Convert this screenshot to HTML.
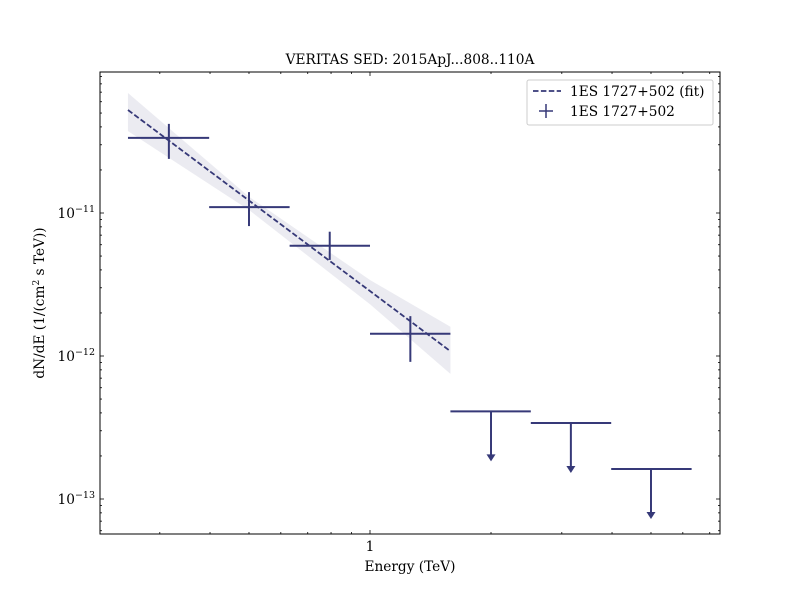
<!DOCTYPE html>
<html><head><meta charset="utf-8"><style>body{margin:0;background:#fff}svg text{font-family:"DejaVu Serif","Liberation Serif",serif;fill:#000}</style></head>
<body>
<svg id="chart" width="800" height="600" xmlns="http://www.w3.org/2000/svg">
<rect width="800" height="600" fill="#fff"/>
<g id="plot"></g>
<rect x="100" y="72" width="620" height="462" fill="none" stroke="#000" stroke-width="1"/>
<text x="410" y="64" font-size="13.7" text-anchor="middle">VERITAS SED: 2015ApJ...808..110A</text>
<text x="410" y="571" font-size="13.7" text-anchor="middle">Energy (TeV)</text>
<text transform="translate(44,303) rotate(-90)" font-size="13.7" text-anchor="middle">dN/dE (1/(cm<tspan font-size="9" dy="-5">2</tspan><tspan dy="5"> s TeV))</tspan></text>
<g>
<rect x="527" y="80" width="186" height="45" fill="#fff" stroke="#ccc" rx="2"/>
<line x1="533" y1="91" x2="561" y2="91" stroke="#363978" stroke-width="1.8" stroke-dasharray="5.5,2.4"/>
<text x="570" y="96" font-size="13.7">1ES 1727+502 (fit)</text>
<line x1="539" y1="111" x2="553" y2="111" stroke="#363978" stroke-width="1.5"/>
<line x1="546" y1="104" x2="546" y2="118" stroke="#363978" stroke-width="1.5"/>
<text x="570" y="116" font-size="13.7">1ES 1727+502</text>
</g>
</svg>
<script>
const binLo=[0.25,0.398,0.631,1.0];
const binHi=[0.398,0.631,1.0,1.585];
const energies=[0.316,0.5,0.794,1.26];
const flux=[3.35e-11,1.1e-11,5.9e-12,1.43e-12];
const fluxHi=[4.2e-11,1.4e-11,7.4e-12,1.9e-12];
const fluxLo=[2.39e-11,0.81e-11,4.7e-12,0.91e-12];
const ulLo=[1.585,2.512,3.981];
const ulHi=[2.512,3.981,6.31];
const ulE=[2.0,3.16,5.0];
const ulFlux=[4.1e-13,3.4e-13,1.62e-13];
const fitE=[0.25,1.585];
const fitF=[5.25e-11,1.08e-12];
const bandE=[0.25,0.5,1.0,1.585];
const bandHi=[6.9e-11,1.3e-11,3.4e-12,1.6e-12];
const bandLo=[3.74e-11,1.05e-11,2.3e-12,0.75e-12];
const xTicks=[1];
const yTicks=[-13,-12,-11];
const NS='http://www.w3.org/2000/svg';
const X=e=>370+402*Math.log10(e);
const Y=f=>213-143*(Math.log10(f)+11);
const g=document.getElementById('plot');
const svg=document.getElementById('chart');
function mk(tag,attrs,parent){const el=document.createElementNS(NS,tag);for(const k in attrs)el.setAttribute(k,attrs[k]);(parent||g).appendChild(el);return el;}
const C='#363978';
let pts=bandE.map((e,i)=>X(e)+','+Y(bandHi[i]));
pts=pts.concat(bandE.map((e,i)=>X(e)+','+Y(bandLo[i])).reverse());
let band=mk('polygon',{points:pts.join(' '),fill:C,'fill-opacity':0.1});


let fl=mk('line',{x1:X(fitE[0]),y1:Y(fitF[0]),x2:X(fitE[1]),y2:Y(fitF[1]),stroke:C,'stroke-width':1.8,'stroke-dasharray':'5.5,2.4'});


for(let i=0;i<flux.length;i++){
 const pg=mk('g',{});
 
 
 mk('line',{x1:X(binLo[i]),x2:X(binHi[i]),y1:Y(flux[i]),y2:Y(flux[i]),stroke:C,'stroke-width':2},pg);
 mk('line',{x1:X(energies[i]),x2:X(energies[i]),y1:Y(fluxHi[i]),y2:Y(fluxLo[i]),stroke:C,'stroke-width':2},pg);
}
for(let i=0;i<ulFlux.length;i++){
 const ug=mk('g',{});
 
 
 const y=Y(ulFlux[i]),x=X(ulE[i]);
 mk('line',{x1:X(ulLo[i]),x2:X(ulHi[i]),y1:y,y2:y,stroke:C,'stroke-width':2},ug);
 mk('line',{x1:x,x2:x,y1:y,y2:y+44,stroke:C,'stroke-width':2},ug);
 mk('polygon',{points:`${x-4.5},${y+43} ${x+4.5},${y+43} ${x},${y+50}`,fill:C},ug);
}
const tg=mk('g',{},svg);


function tick(x1,y1,x2,y2){mk('line',{x1,y1,x2,y2,stroke:'#000','stroke-width':0.8},tg);}
for(let d=-1;d<=0;d++)for(let m=1;m<10;m++){const e=m*Math.pow(10,d);const x=X(e);if(x<100||x>720)continue;const L=m===1?4:2;tick(x,534,x,534-L);tick(x,72,x,72+L);}
for(let d=-14;d<=-10;d++)for(let m=1;m<10;m++){const f=m*Math.pow(10,d);const y=Y(f);if(y<72||y>534)continue;const L=m===1?4:2;tick(100,y,100+L,y);tick(720,y,720-L,y);}
xTicks.forEach(e=>{const t=mk('text',{x:X(e),y:551,'font-size':13.7,'text-anchor':'middle'},tg);t.textContent=String(e);});
yTicks.forEach(p=>{const t=mk('text',{x:95,y:Y(Math.pow(10,p))+5,'font-size':13.7,'text-anchor':'end'},tg);t.innerHTML='10<tspan font-size="9.5" dy="-6">\u2212'+(-p)+'</tspan>';});
</script>
</body></html>
